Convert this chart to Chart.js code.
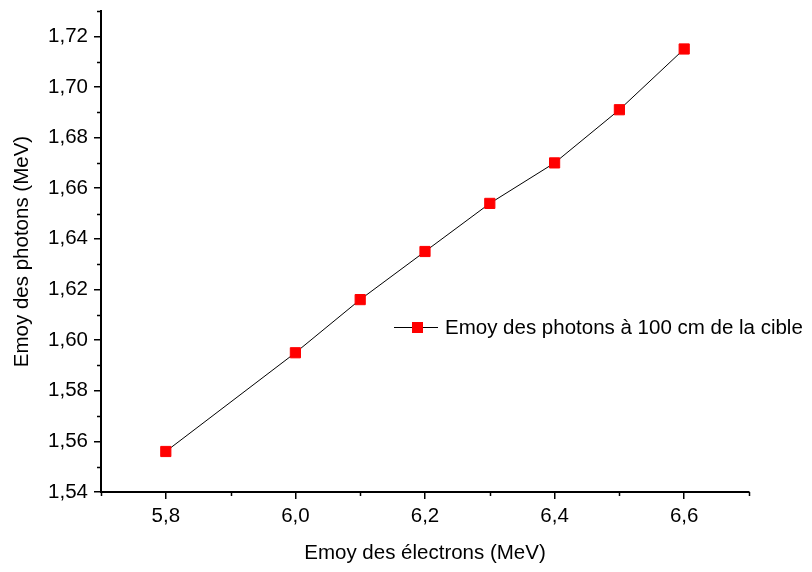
<!DOCTYPE html>
<html>
<head>
<meta charset="utf-8">
<script src="https://cdn.jsdelivr.net/npm/chart.js@4.4.1/dist/chart.umd.min.js"></script>
<style>
  html, body { margin: 0; padding: 0; background: #fff; }
  #wrap { width: 812px; height: 572px; }
</style>
</head>
<body>
<div id="wrap"><canvas id="photonChart" width="812" height="572"></canvas></div>
<script>
// data
const electronEnergy = [5.8, 6.0, 6.1, 6.2, 6.3, 6.4, 6.5, 6.6];
const photonEnergy = [1.556, 1.595, 1.616, 1.635, 1.654, 1.670, 1.691, 1.715];
const seriesLabel = 'Emoy des photons à 100 cm de la cible';
const xTitle = 'Emoy des électrons (MeV)';
const yTitle = 'Emoy des photons (MeV)';

const fontFamily = 'Arial, "Liberation Sans", sans-serif';

function comma(v, d) {
  return v.toFixed(d).replace('.', ',');
}

// short minor ticks, drawn on the library's own tick positions
const minorTicks = {
  id: 'minorTicks',
  afterDraw(chart) {
    const ctx = chart.ctx;
    ctx.save();
    ctx.strokeStyle = '#000';
    ctx.lineWidth = 1.5;
    const xs = chart.scales.x;
    xs.ticks.forEach(function (t, i) {
      if (Math.round(t.value * 10) % 2 === 0) return;
      const px = Math.round(xs.getPixelForTick(i)) + 0.5;
      ctx.beginPath();
      ctx.moveTo(px, xs.top);
      ctx.lineTo(px, xs.top + 4);
      ctx.stroke();
    });
    const ys = chart.scales.y;
    ys.ticks.forEach(function (t, i) {
      if (Math.round(t.value * 100) % 2 === 0) return;
      const py = Math.round(ys.getPixelForTick(i)) + 0.5;
      ctx.beginPath();
      ctx.moveTo(ys.right, py);
      ctx.lineTo(ys.right - 4, py);
      ctx.stroke();
    });
    ctx.restore();
  }
};

// legend sitting inside the plot, like the original
const insideLegend = {
  id: 'insideLegend',
  afterDraw(chart) {
    const ctx = chart.ctx;
    const x = 394, y = 327;
    ctx.save();
    ctx.strokeStyle = '#000';
    ctx.lineWidth = 1;
    ctx.beginPath();
    ctx.moveTo(x, y + 0.5);
    ctx.lineTo(x + 44, y + 0.5);
    ctx.stroke();
    ctx.fillStyle = '#ff0000';
    ctx.fillRect(x + 18, y - 5, 11, 11);
    ctx.fillStyle = '#000';
    ctx.font = '20.5px ' + fontFamily;
    ctx.textBaseline = 'middle';
    ctx.fillText(chart.data.datasets[0].label, x + 51, y + 1);
    ctx.restore();
  }
};

const photonCanvas = document.getElementById('photonChart');

let photonData = {
  datasets: [{
    label: seriesLabel,
    data: electronEnergy.map(function (e, i) { return { x: e, y: photonEnergy[i] }; }),
    showLine: true,
    borderColor: '#000',
    borderWidth: 1,
    pointStyle: 'rect',
    pointRadius: 7.2,
    pointBorderWidth: 1,
    pointBackgroundColor: '#ff0000',
    pointBorderColor: '#ff0000'
  }]
};

let photonOptions = {
  responsive: false,
  animation: { duration: 0 },
  layout: { padding: { top: 11, right: 63, left: 0, bottom: 0 } },
  plugins: {
    legend: { display: false },
    tooltip: { enabled: false }
  },
  scales: {
    x: {
      type: 'linear',
      min: 5.7,
      max: 6.7,
      afterFit: function (s) {
        s.height = 80;
        s.paddingLeft = 0;
        s.paddingRight = 0;
      },
      border: { display: true, color: '#000', width: 2 },
      grid: {
        drawOnChartArea: false,
        drawTicks: true,
        tickLength: 7,
        lineWidth: 1.5,
        color: function (c) {
          return c.tick && Math.round(c.tick.value * 10) % 2 === 0 ? '#000' : 'rgba(0,0,0,0)';
        }
      },
      ticks: {
        stepSize: 0.1,
        autoSkip: false,
        maxRotation: 0,
        padding: 5,
        color: '#000',
        font: { family: fontFamily, size: 20.5 },
        callback: function (v) {
          return Math.round(v * 10) % 2 === 0 ? comma(v, 1) : '';
        }
      },
      title: {
        display: true,
        text: xTitle,
        color: '#000',
        font: { family: fontFamily, size: 20.5 },
        padding: { top: 0, bottom: 6 }
      }
    },
    y: {
      type: 'linear',
      min: 1.54,
      max: 1.73,
      afterFit: function (s) {
        s.width = 101;
        s.paddingTop = 0;
        s.paddingBottom = 0;
      },
      border: { display: true, color: '#000', width: 2 },
      grid: {
        drawOnChartArea: false,
        drawTicks: true,
        tickLength: 7,
        lineWidth: 1.5,
        color: function (c) {
          return c.tick && Math.round(c.tick.value * 100) % 2 === 0 ? '#000' : 'rgba(0,0,0,0)';
        }
      },
      ticks: {
        stepSize: 0.01,
        autoSkip: false,
        padding: 6,
        color: '#000',
        font: { family: fontFamily, size: 20.5 },
        callback: function (v) {
          return Math.round(v * 100) % 2 === 0 ? comma(v, 2) : '';
        }
      },
      title: {
        display: true,
        text: yTitle,
        color: '#000',
        font: { family: fontFamily, size: 20.5 },
        padding: { top: 10, bottom: 0 }
      }
    }
  }
};

let photonChart = new Chart(photonCanvas, {
  type: 'scatter',
  data: photonData,
  options: photonOptions,
  plugins: [minorTicks, insideLegend]
});
</script>
</body>
</html>
